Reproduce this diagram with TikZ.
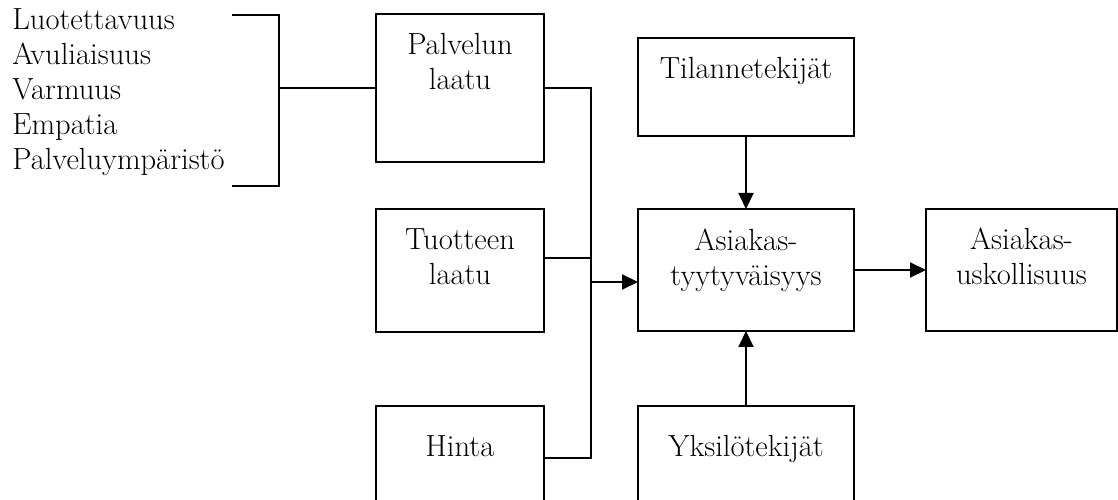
\documentclass[tikz,border=0pt]{standalone}
\usepackage{fontspec}
\usepackage{tikz}
\usetikzlibrary{arrows.meta, positioning}

\begin{document}
\begin{tikzpicture}[
    node distance=1.5cm,
    box/.style 2 args={rectangle, draw, line width=1.2pt, inner sep=0pt, outer sep=0pt, minimum width=#1, minimum height=#2},
    txt/.style={inner sep=0pt, align=center, font=\fontsize{17.4}{19.9}\selectfont},
    wire/.style={line width=1.2pt},
    arrow/.style={-{Triangle[length=0.32cm, width=0.3cm]}, line width=1.2pt}
]
    \useasboundingbox (0,0) rectangle (22.36,-10);
    \clip (0,0) rectangle (22.36,-10);

    \node[txt, align=left, anchor=north west] (kriteerit) at (0.24,-0.16) {Luotettavuus\\Avuliaisuus\\Varmuus\\Empatia\\Palveluympäristö};

    \node[box={3.36cm}{2.96cm}] (palvelu) at (9.2,-1.76) {};
    \node[box={3.36cm}{2.46cm}, below=0.94cm of palvelu] (tuote) {};
    \node[box={3.36cm}{2.4cm}, below=1.48cm of tuote] (hinta) {};

    \node[box={4.32cm}{1.96cm}] (tilanne) at (14.92,-1.74) {};
    \node[box={4.32cm}{2.44cm}, below=1.46cm of tilanne] (asiakas) {};
    \node[box={4.32cm}{2.4cm}, below=1.5cm of asiakas] (yksilo) {};
    \node[box={3.82cm}{2.44cm}, right=1.44cm of asiakas] (uskollisuus) {};

    \node[txt, below=0.38cm of palvelu.north] (palvelu-txt) {Palvelun\\laatu};
    \node[txt, below=0.38cm of tuote.north] (tuote-txt) {Tuotteen\\laatu};
    \node[txt, below=0.58cm of hinta.north] (hinta-txt) {Hinta};
    \node[txt, below=0.38cm of tilanne.north] (tilanne-txt) {Tilannetekijät};
    \node[txt, below=0.40cm of asiakas.north] (asiakas-txt) {Asiakas-\\tyytyväisyys};
    \node[txt, below=0.58cm of yksilo.north] (yksilo-txt) {Yksilötekijät};
    \node[txt, below=0.38cm of uskollisuus.north] (uskollisuus-txt) {Asiakas-\\uskollisuus};

    % sulku listan ja palvelun laadun välillä
    \coordinate (brtop) at (4.64,-0.3);
    \coordinate (brbot) at (4.64,-3.72);
    \coordinate (brmid) at (5.58,-1.76);
    \draw[wire] (brtop) -| (brmid) |- (brbot);
    \draw[wire] (brmid) -- (palvelu.west);

    \coordinate (join) at (11.82,-5.64);
    \draw[wire] (palvelu.east) -| (join);
    \draw[wire] ([yshift=0.25cm]tuote.east) -| (join);
    \draw[wire] ([yshift=-1.04cm]hinta.north east) -| (join);
    \draw[arrow] (join) -- (join -| asiakas.west);

    \draw[arrow] (tilanne.south) -- (asiakas.north);
    \draw[arrow] (yksilo.north) -- (asiakas.south);
    \draw[arrow] (asiakas) -- (uskollisuus);
\end{tikzpicture}
\end{document}
